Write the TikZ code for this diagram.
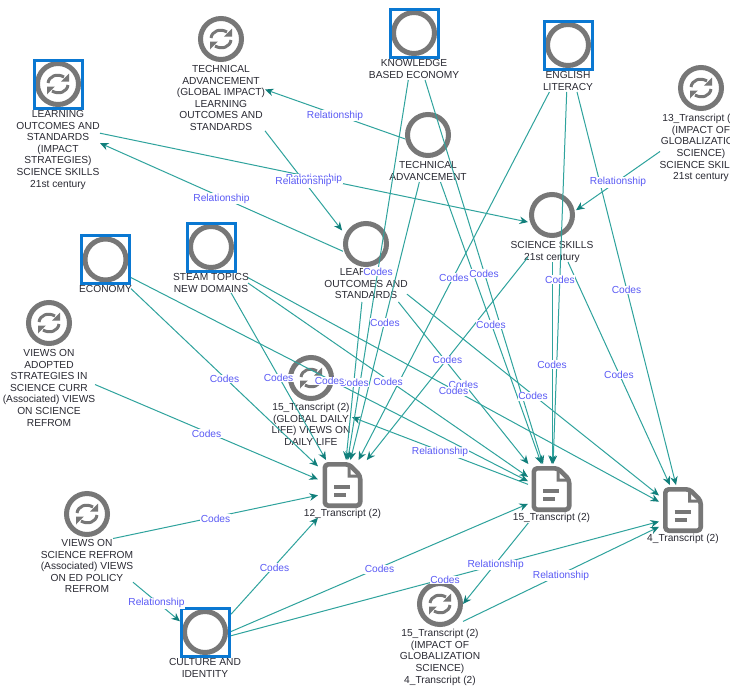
\documentclass[tikz,border=0pt]{standalone}
\usepackage{fontspec}
\setmainfont{Liberation Sans}
\usetikzlibrary{arrows.meta}
\definecolor{icongray}{HTML}{777777}
\definecolor{selblue}{HTML}{0A78D2}
\definecolor{edgeteal}{HTML}{2FA39D}
\definecolor{tipteal}{HTML}{117F7B}
\definecolor{lblblue}{HTML}{5A5AF5}
\definecolor{txtdark}{HTML}{2A2A33}
\tikzset{
  edge/.style={draw=edgeteal,line width=1pt,-{Stealth[length=8.5pt,width=7.5pt,color=tipteal]}},
  lbl/.style={fill=white,text=lblblue,font=\fontsize{10.2}{11.6}\selectfont,inner sep=0.6pt,yshift=-1.5pt},
  txt/.style={text=txtdark,font=\fontsize{10.2}{11.6}\selectfont,align=center,inner sep=0pt,anchor=north},
  hit/.style={rectangle,inner sep=0pt,outer sep=0pt},
  ring/.style={circle,draw=icongray,line width=5pt,inner sep=0pt,outer sep=0pt,minimum size=41pt},
  selbox/.style={rectangle,draw=selblue,line width=3pt,inner sep=0pt,outer sep=0pt,minimum size=48pt},
  docframe/.style={rectangle,inner sep=0pt,outer sep=0pt,minimum width=40pt,minimum height=46pt},
  refresh/.pic={
    \draw[icongray,line width=3pt] (-10,-1) .. controls (-9,-8) and (-1,-11) .. (6,-7);
    \fill[icongray] (11,-10.5) -- (11,-2.5) -- (3.2,-2.5) -- cycle;
    \draw[icongray,line width=3pt] (10,1) .. controls (9,8) and (1,11) .. (-6,7);
    \fill[icongray] (-11,10.5) -- (-11,2.5) -- (-3.2,2.5) -- cycle;
  },
  docicon/.pic={
    \draw[icongray,line width=4.6pt,rounded corners=3.5pt,line join=round]
      (-17.7,-20.7) -- (6.5,-20.7) -- (17.7,-9.5) -- (17.7,20.7) -- (-17.7,20.7) -- cycle;
    \fill[icongray] (5,-21) -- (5,-7.5) -- (18,-7.5) -- (18,-10.5) -- (8,-10.5) -- (8,-21) -- cycle;
    \draw[icongray,line width=3.2pt] (-8.5,2) -- (7.5,2);
    \draw[icongray,line width=3.2pt] (-8.5,10) -- (3.5,10);
  }
}
% name, cx, cy, first-line y, text
\newcommand{\RingEnt}[5]{\node[ring] (#1-i) at (#2,#3) {}; \node[txt] (#1-l) at (#2,#4-3.9) {#5};}
\newcommand{\SyncEnt}[5]{\node[ring] (#1-i) at (#2,#3) {}; \pic at (#2,#3) {refresh}; \node[txt] (#1-l) at (#2,#4-3.9) {#5};}
\newcommand{\DocEnt}[5]{\node[docframe] (#1-i) at (#2,#3) {}; \pic at (#2,#3) {docicon}; \node[txt] (#1-l) at (#2,#4-3.9) {#5};}
\newcommand{\SelMark}[3]{\node[selbox] (#1-s) at (#2,#3) {};}
% name, x0, y0, x1, y1: connection box of an entity
\newcommand{\HitBox}[5]{\node[hit,minimum width=#4pt-#2pt,minimum height=#5pt-#3pt] (#1) at ({(#2+#4)/2},{(#3+#5)/2}) {};}
\begin{document}
\begin{tikzpicture}[x=1pt,y=-1pt]
\useasboundingbox (0,0) rectangle (730,686);
\clip (0,0) rectangle (730,686);
\fill[white] (0,0) rectangle (730,686);

% entities
\SyncEnt{LOI}{58}{84}{114}{LEARNING\\OUTCOMES AND\\STANDARDS\\(IMPACT\\STRATEGIES)\\SCIENCE SKILLS\\21st century}
\SelMark{LOI}{58}{84.5}
\SyncEnt{TAG}{221}{39}{69}{TECHNICAL\\ADVANCEMENT\\(GLOBAL IMPACT)\\LEARNING\\OUTCOMES AND\\STANDARDS}
\RingEnt{KBE}{414}{33}{63}{KNOWLEDGE\\BASED ECONOMY}
\SelMark{KBE}{414}{33}
\RingEnt{ENG}{568}{45}{75}{ENGLISH\\LITERACY}
\SelMark{ENG}{568}{45}
\RingEnt{TAD}{428}{135}{165}{TECHNICAL\\ADVANCEMENT}
\SyncEnt{TTT}{701}{88}{118}{13\_Transcript (2)\\(IMPACT OF\\GLOBALIZATION\\SCIENCE)\\SCIENCE SKILLS\\21st century}
\RingEnt{SCI}{552}{215}{245}{SCIENCE SKILLS\\21st century}
\RingEnt{LEA}{366}{244}{272}{LEARNING\\OUTCOMES AND\\STANDARDS}
\RingEnt{ECO}{105.5}{259.5}{289}{ECONOMY}
\SelMark{ECO}{105.5}{259.5}
\RingEnt{STE}{211}{247}{277}{STEAM TOPICS\\NEW DOMAINS}
\SelMark{STE}{211}{247}
\SyncEnt{VAD}{49}{323}{353}{VIEWS ON\\ADOPTED\\STRATEGIES IN\\SCIENCE CURR\\(Associated) VIEWS\\ON SCIENCE\\REFROM}
\SyncEnt{GDL}{311}{378}{407}{15\_Transcript (2)\\(GLOBAL DAILY\\LIFE) VIEWS ON\\DAILY LIFE}
\SyncEnt{VSR}{87}{514}{543}{VIEWS ON\\SCIENCE REFROM\\(Associated) VIEWS\\ON ED POLICY\\REFROM}
\RingEnt{CUL}{205}{632}{662}{CULTURE AND\\IDENTITY}
\SelMark{CUL}{205}{632}
\SyncEnt{IMP}{440}{604}{633}{15\_Transcript (2)\\(IMPACT OF\\GLOBALIZATION\\SCIENCE)\\4\_Transcript (2)}
\DocEnt{TA}{342.5}{485}{513}{12\_Transcript (2)}
\DocEnt{TB}{551.5}{489}{517}{15\_Transcript (2)}
\DocEnt{TC}{683}{510}{538}{4\_Transcript (2)}

% connection boxes
\HitBox{LOIb}{16}{59}{100}{190}
\HitBox{TAGb}{177}{16}{265}{132}
\HitBox{KBEb}{370}{8}{458}{80}
\HitBox{ENGb}{543}{20}{593}{92}
\HitBox{TADb}{405}{112}{451}{182}
\HitBox{TTTb}{660}{65}{740}{182}
\HitBox{SCIb}{528}{192}{576}{262}
\HitBox{LEAb}{325}{221}{407}{302}
\HitBox{ECOb}{80}{234}{131}{295}
\HitBox{STEb}{174}{222}{248}{293}
\HitBox{VADb}{3}{300}{95}{430}
\HitBox{GDLb}{270}{355}{352}{448}
\HitBox{VSRb}{41}{491}{133}{597}
\HitBox{CULb}{180}{606}{231}{679}
\HitBox{IMPb}{417}{580}{463}{685}
\HitBox{TAb}{318}{460}{368}{520}
\HitBox{TBb}{528}{464}{576}{523}
\HitBox{TCb}{659}{485}{708}{545}

% from / to / label / extra length at start / extra length at end / label position
\def\EdgeList{
  LOIb/SCIb/Relationship/0/0/.5,
  TADb/TAGb/Relationship/0/0/.5,
  TAGb/LEAb/Relationship/0/12/.553,
  LEAb/LOIb/Relationship/19.7/0/.46,
  TTTb/SCIb/Relationship/0/0/.5,
  VSRb/CULb/Relationship/0/0/.5,
  TBb/IMPb/Relationship/0/0/.5,
  IMPb/TCb/Relationship/0/0/.5,
  TBb/GDLb/Relationship/0/0/.5,
  KBEb/TAb/Codes/0/0/.5,
  KBEb/TBb/Codes/0/0/.5,
  TADb/TAb/Codes/0/0/.5,
  TADb/TBb/Codes/0/0/.5,
  LEAb/TAb/Codes/0/0/.5,
  LEAb/TBb/Codes/0/0/.5,
  LEAb/TCb/Codes/0/0/.5,
  ENGb/TAb/Codes/0/0/.5,
  ENGb/TBb/Codes/0/0/.5,
  ENGb/TCb/Codes/0/0/.5,
  SCIb/TAb/Codes/0/0/.5,
  SCIb/TBb/Codes/0/0/.5,
  SCIb/TCb/Codes/0/0/.5,
  ECOb/TAb/Codes/0/0/.5,
  ECOb/TBb/Codes/0/0/.5,
  STEb/TAb/Codes/0/0/.5,
  STEb/TBb/Codes/0/0/.5,
  STEb/TCb/Codes/0/0/.5,
  VADb/TAb/Codes/0/0/.5,
  VSRb/TAb/Codes/20.4/0/.446,
  CULb/TAb/Codes/0/0/.5,
  CULb/TBb/Codes/0/0/.5,
  CULb/TCb/Codes/0/0/.5}

\foreach \a/\b/\t/\s/\e/\p in \EdgeList {
  \draw[edge,shorten <=-\s pt,shorten >=-\e pt] (\a) -- (\b);
}
\foreach \a/\b/\t/\s/\e/\p [count=\i] in \EdgeList {
  \path (\a) -- node[lbl,pos=\p] (lab\i) {\t} (\b);
}
\end{tikzpicture}
\end{document}
